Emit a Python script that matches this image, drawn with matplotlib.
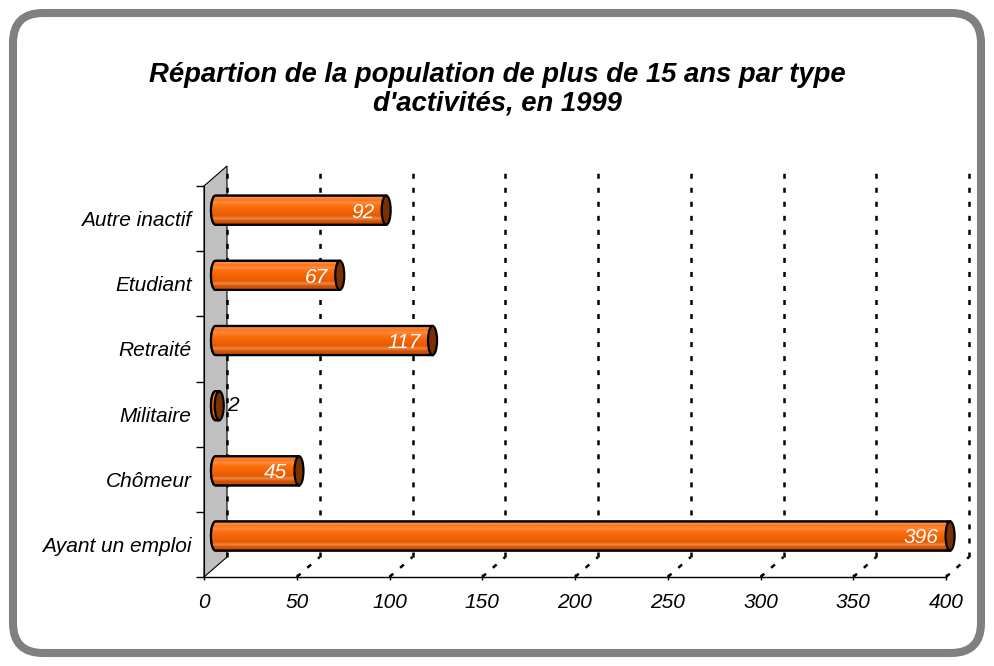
import numpy as np
import matplotlib
matplotlib.use('Agg')
import matplotlib.pyplot as plt
from matplotlib.patches import Polygon, Ellipse, PathPatch, FancyBboxPatch
from matplotlib.path import Path
from matplotlib.colors import to_rgb

# data
categories = ['Ayant un emploi', 'Chômeur', 'Militaire', 'Retraité', 'Etudiant', 'Autre inactif']
values = [396, 45, 2, 117, 67, 92]
x_ticks = [0, 50, 100, 150, 200, 250, 300, 350, 400]
title = "Répartion de la population de plus de 15 ans par type\nd'activités, en 1999"

plt.rcParams['font.family'] = ['Liberation Sans', 'DejaVu Sans']
plt.rcParams['lines.scale_dashes'] = False

W, H = 994, 666
fig = plt.figure(figsize=(W / 100, H / 100), dpi=100)
ax = fig.add_axes([204 / W, 89 / H, 742 / W, 391 / H])
ax.set_xlim(0, 400)
ax.set_ylim(0, 6)

# fake 3D depth, in data units
ddx = 23 / 742 * 400
ddy = 20 / 391 * 6

# grey side wall
wall = Polygon([(0, 0), (0, 6), (ddx, 6 + ddy), (ddx, ddy)], closed=True,
               facecolor='#C0C0C0', edgecolor='black', lw=0.8, clip_on=False, zorder=0)
ax.add_patch(wall)

# dotted gridlines on back wall and floor
dots = (0, (3.6, 6.5))
for t in x_ticks:
    ax.plot([t + ddx, t + ddx], [ddy, 6 + ddy], color='black', lw=1.8, ls=dots,
            clip_on=False, zorder=1)
    if t > 0:
        ax.plot([t, t + ddx], [0, ddy], color='black', lw=1.8, ls=dots,
                clip_on=False, zorder=1)

# cylinders
h = 29 / 391 * 6
ew = 9 / 742 * 400
xs = ddx / 2
grad_cols = ['#F89050', '#FF7212', '#FF8A40', '#FF7212', '#F86A0A', '#F26406',
             '#EC5F04', '#E65A02', '#E98545', '#D85300', '#CC4E00']
grad = np.array([to_rgb(c) for c in grad_cols])[:, None, :]

for i, v in enumerate(values):
    yc = i + 0.5 + 0.42 * ddy
    th = np.linspace(np.pi / 2, 3 * np.pi / 2, 40)
    px = list(xs + ew / 2 * np.cos(th)) + [xs + v, xs + v]
    py = list(yc + h / 2 * np.sin(th)) + [yc - h / 2, yc + h / 2]
    verts = list(zip(px, py)) + [(px[0], py[0])]
    codes = [Path.MOVETO] + [Path.LINETO] * (len(verts) - 2) + [Path.CLOSEPOLY]
    body = PathPatch(Path(verts, codes), facecolor='#F06406', edgecolor='black',
                     lw=1.6, clip_on=False, zorder=3)
    ax.add_patch(body)
    img = ax.imshow(grad, extent=[xs - ew / 2, xs + v, yc - h / 2, yc + h / 2],
                    aspect='auto', interpolation='bilinear', zorder=3.5, clip_on=True)
    img.set_clip_path(body)
    edge = PathPatch(Path(verts, codes), facecolor='none', edgecolor='black',
                     lw=1.6, clip_on=False, zorder=4)
    ax.add_patch(edge)
    cap = Ellipse((xs + v, yc), ew, h, facecolor='#7A3000', edgecolor='black',
                  lw=1.6, clip_on=False, zorder=5)
    ax.add_patch(cap)
    if v > 10:
        ax.text(xs + v - 6.5, yc - 0.03, str(v), color='white', ha='right', va='center',
                fontsize=15, style='italic', zorder=6)
    else:
        ax.text(xs + v + ew / 2 + 2, yc, str(v), color='black', ha='left', va='center',
                fontsize=15, style='italic', zorder=6)

ax.set_xlim(0, 400)
ax.set_ylim(0, 6)
ax.set_aspect('auto')

ax.set_xticks(x_ticks)
ax.set_xticklabels([str(t) for t in x_ticks], fontsize=15, style='italic')
ax.tick_params(axis='x', direction='inout', length=5, width=1, pad=9)
ax.set_yticks([i + 0.5 for i in range(len(categories))])
ax.set_yticklabels(categories, fontsize=15, style='italic')
ax.set_yticks(np.arange(7), minor=True)
ax.tick_params(axis='y', which='major', length=0, pad=9)
ax.tick_params(axis='y', which='minor', length=6, width=1, direction='out')
for s in ['top', 'right']:
    ax.spines[s].set_visible(False)
ax.spines['bottom'].set_linewidth(1)
ax.spines['left'].set_linewidth(0.8)
ax.patch.set_visible(False)

fig.text(0.5, (H - 89) / H, title, ha='center', va='center', fontsize=19.8,
         weight='bold', style='italic', linespacing=1.12)

border = FancyBboxPatch((0.13, 0.13), 9.68, 6.40, boxstyle='round,pad=0,rounding_size=0.3',
                        transform=fig.dpi_scale_trans, facecolor='none',
                        edgecolor='#808080', lw=5.8)
fig.add_artist(border)

fig.savefig('out.png', dpi=100)
